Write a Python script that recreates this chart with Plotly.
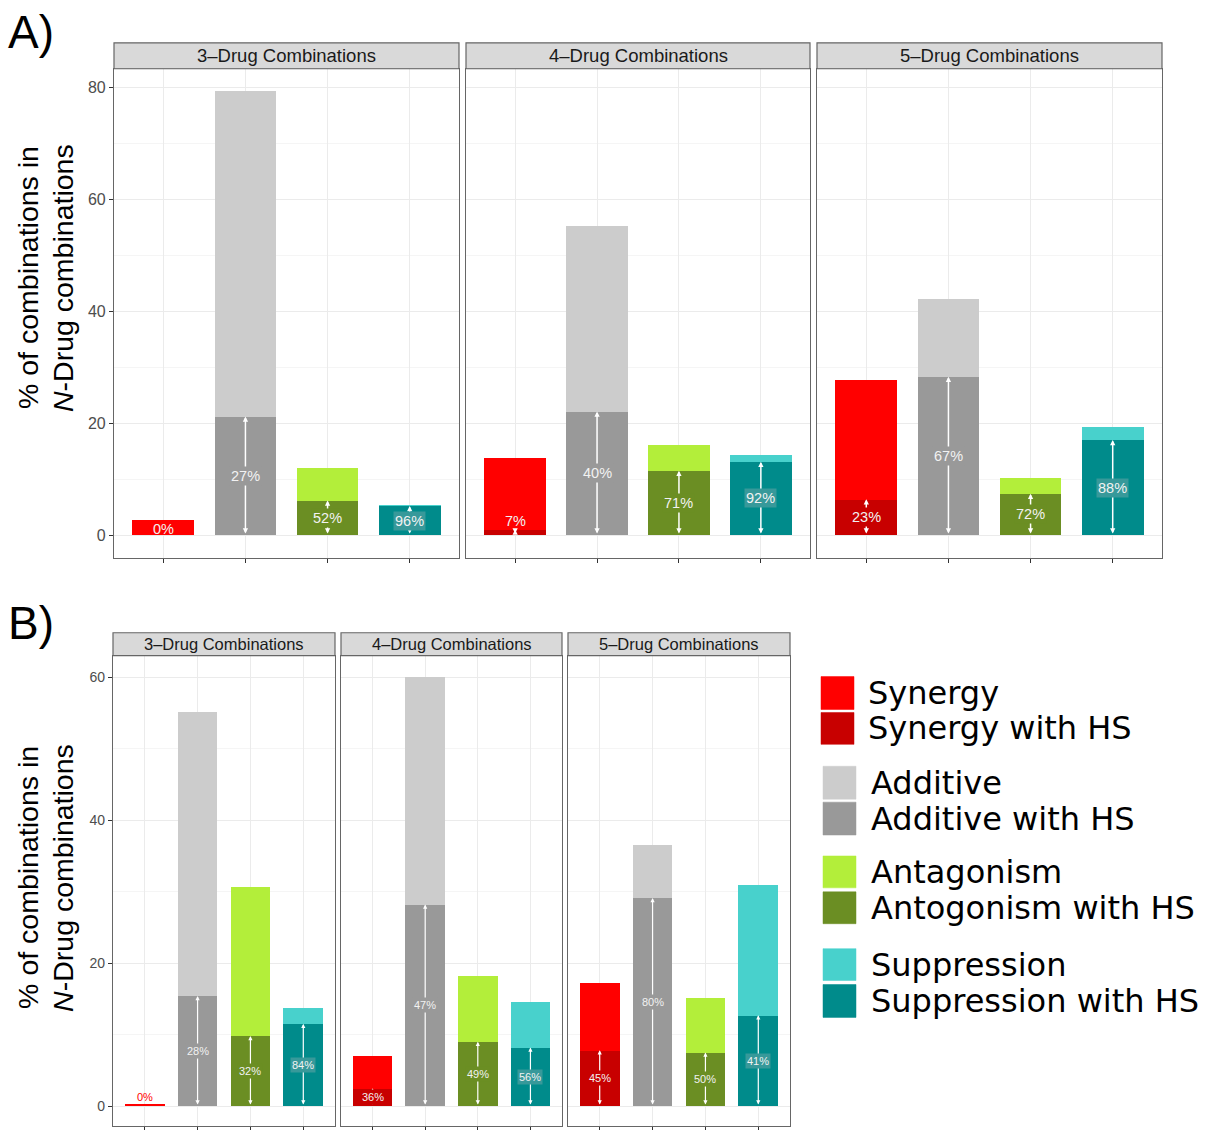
import plotly.graph_objects as go

W, H = 1218, 1130

categories = ["Synergy", "Additive", "Antagonism", "Suppression"]
facets = ["3–Drug Combinations", "4–Drug Combinations", "5–Drug Combinations"]

# Panel A: total % and % with HS per facet (3, 4, 5 drug)
a_total = [[2.7, 79.5, 12.1, 5.4], [13.9, 55.3, 16.2, 14.4], [27.8, 42.2, 10.3, 19.3]]
a_hs = [[0.0, 21.2, 6.2, 5.2], [1.0, 22.1, 11.5, 13.1], [6.4, 28.3, 7.4, 17.0]]
a_pct = [["0%", "27%", "52%", "96%"], ["7%", "40%", "71%", "92%"], ["23%", "67%", "72%", "88%"]]

# Panel B
b_total = [[0.3, 55.2, 30.7, 13.8], [7.0, 60.0, 18.3, 14.6], [17.3, 36.5, 15.1, 31.0]]
b_hs = [[0.0, 15.4, 9.8, 11.5], [2.5, 28.2, 9.0, 8.2], [7.8, 29.1, 7.5, 12.7]]
b_pct = [["0%", "28%", "32%", "84%"], ["36%", "47%", "49%", "56%"], ["45%", "80%", "50%", "41%"]]

legend_labels = ["Synergy", "Synergy with HS", "Additive", "Additive with HS",
                 "Antagonism", "Antogonism with HS", "Suppression", "Suppression with HS"]

col_total = ["#FF0000", "#CCCCCC", "#B3EE3A", "#48D1CC"]
col_hs = ["#C80000", "#999999", "#6B8E23", "#008B8B"]
lab_bg_hs = ["#C80000", "#999999", "#6B8E23", "#37999A"]

FONT = "Liberation Sans, Arial, Helvetica, sans-serif"
LEG_FONT = "DejaVu Sans, Liberation Sans, Arial, sans-serif"


def px_x(p):
    return p / W


def px_y(p):
    return 1 - p / H


fig = go.Figure()

panels = [
    dict(total=a_total, hs=a_hs, pct=a_pct,
         xs=[(114, 459), (466, 810), (817, 1162)], ytop=69, ybot=560,
         yrange=[-4.1, 83.4], ticks=[0, 20, 40, 60, 80], strip=(43, 69),
         strip_font=18.5, tick_font=16, lab_font=14.5, arrow_w=1.5, floor=2.6, zero_y=1.1),
    dict(total=b_total, hs=b_hs, pct=b_pct,
         xs=[(113, 335), (341, 562), (568, 790)], ytop=658, ybot=1130,
         yrange=[-2.79, 63.0], ticks=[0, 20, 40, 60], strip=(635, 658),
         strip_font=16.5, tick_font=14, lab_font=11, arrow_w=1.2, floor=1.2, zero_y=1.2),
]

annotations = []
shapes = []
layout_axes = {}
n = 0
for pi, P in enumerate(panels):
    for fi in range(3):
        n += 1
        xa = "x" if n == 1 else f"x{n}"
        ya = "y" if n == 1 else f"y{n}"
        xs = list(range(4))
        fig.add_trace(go.Bar(x=xs, y=P["total"][fi], width=0.75,
                             marker=dict(color=col_total, line=dict(width=0)),
                             xaxis=xa, yaxis=ya, showlegend=False, hoverinfo="skip"))
        fig.add_trace(go.Bar(x=xs, y=P["hs"][fi], width=0.75,
                             marker=dict(color=col_hs, line=dict(width=0)),
                             xaxis=xa, yaxis=ya, showlegend=False, hoverinfo="skip"))
        x0, x1 = P["xs"][fi]
        layout_axes["xaxis" if n == 1 else f"xaxis{n}"] = dict(
            domain=[px_x(x0), px_x(x1)], anchor=ya, range=[-0.6, 3.6],
            tickvals=xs, ticktext=["", "", "", ""], ticks="outside", ticklen=4,
            tickcolor="#333333", showgrid=True, gridcolor="#EBEBEB", gridwidth=1,
            showline=True, mirror=True, linecolor="#666666", linewidth=1.2,
            zeroline=False, fixedrange=True)
        layout_axes["yaxis" if n == 1 else f"yaxis{n}"] = dict(
            domain=[px_y(P["ybot"]), px_y(P["ytop"])], anchor=xa, range=P["yrange"],
            tickvals=P["ticks"], ticktext=[str(t) for t in P["ticks"]] if fi == 0 else [""] * len(P["ticks"]),
            ticks="outside" if fi == 0 else "", ticklen=4, tickcolor="#333333",
            tickfont=dict(size=P["tick_font"], color="#4D4D4D", family=FONT),
            showgrid=True, gridcolor="#EBEBEB", gridwidth=1,
            minor=dict(dtick=10, tick0=0, showgrid=True, gridcolor="#F5F5F5", gridwidth=0.6, ticks=""),
            showline=True, mirror=True, linecolor="#666666", linewidth=1.2,
            zeroline=False, fixedrange=True)
        # strip
        s0, s1 = P["strip"]
        shapes.append(dict(type="rect", xref="paper", yref="paper",
                           x0=px_x(x0), x1=px_x(x1), y0=px_y(s1), y1=px_y(s0),
                           fillcolor="#D9D9D9", line=dict(color="#666666", width=1.2)))
        annotations.append(dict(xref="paper", yref="paper", x=px_x((x0 + x1) / 2),
                                y=px_y((s0 + s1) / 2), text=facets[fi], showarrow=False,
                                xanchor="center", yanchor="middle",
                                font=dict(size=P["strip_font"], color="#1A1A1A", family=FONT)))
        # arrows
        for ci in range(4):
            hs = P["hs"][fi][ci]
            if hs > 0:
                annotations.append(dict(x=ci, y=hs, ax=ci, ay=0, xref=xa, yref=ya,
                                        axref=xa, ayref=ya, text="", showarrow=True,
                                        arrowhead=2, startarrowhead=2, arrowside="end+start",
                                        arrowsize=0.7, startarrowsize=0.7,
                                        arrowwidth=P["arrow_w"], arrowcolor="#FFFFFF",
                                        standoff=0, startstandoff=0))
        for ci in range(4):
            hs = P["hs"][fi][ci]
            tot = P["total"][fi][ci]
            ly = max(hs / 2, P["floor"]) if hs > 0 else P["zero_y"]
            if ly > tot:
                fc = col_total[ci]
                bg = "rgba(0,0,0,0)"
            elif ly <= hs:
                fc = "#F2F2F2"
                bg = lab_bg_hs[ci]
            else:
                fc = "#F2F2F2"
                bg = "rgba(0,0,0,0)"
            annotations.append(dict(x=ci, y=ly, xref=xa, yref=ya, text=P["pct"][fi][ci],
                                    showarrow=False, xanchor="center", yanchor="middle",
                                    bgcolor=bg, borderpad=1,
                                    font=dict(size=P["lab_font"], color=fc, family=FONT)))

# panel letters
annotations.append(dict(xref="paper", yref="paper", x=px_x(6), y=px_y(32), text="A)",
                        showarrow=False, xanchor="left", yanchor="middle",
                        font=dict(size=46, color="#000000", family=FONT)))
annotations.append(dict(xref="paper", yref="paper", x=px_x(6), y=px_y(625), text="B)",
                        showarrow=False, xanchor="left", yanchor="middle",
                        font=dict(size=46, color="#000000", family=FONT)))

# y-axis titles
for yc in (279, 881):
    annotations.append(dict(xref="paper", yref="paper", x=px_x(28), y=px_y(yc),
                            text="% of combinations in", textangle=-90, showarrow=False,
                            xanchor="center", yanchor="middle",
                            font=dict(size=28.5, color="#000000", family=FONT)))
    annotations.append(dict(xref="paper", yref="paper", x=px_x(63), y=px_y(yc),
                            text="<i>N</i>-Drug combinations", textangle=-90, showarrow=False,
                            xanchor="center", yanchor="middle",
                            font=dict(size=28.5, color="#000000", family=FONT)))

# custom legend
leg_colors = []
for ct, ch in zip(col_total, col_hs):
    leg_colors += [ct, ch]
leg_y = [(679, 712), (715, 747), (769, 802), (805, 838), (859, 891), (895, 927), (952, 984), (988, 1021)]
for i, (lab, c) in enumerate(zip(legend_labels, leg_colors)):
    y0, y1 = leg_y[i]
    sx0 = 821 if i < 2 else 823
    shapes.append(dict(type="rect", xref="paper", yref="paper",
                       x0=px_x(sx0), x1=px_x(sx0 + 33), y0=px_y(y1), y1=px_y(y0),
                       fillcolor=c, line=dict(color=c, width=0.5)))
    annotations.append(dict(xref="paper", yref="paper", x=px_x(866 if i < 2 else 869),
                            y=px_y((y0 + y1) / 2), text=lab, showarrow=False,
                            xanchor="left", yanchor="middle",
                            font=dict(size=32, color="#000000", family=LEG_FONT)))

fig.update_layout(
    width=W, height=H, margin=dict(l=0, r=0, t=0, b=0),
    paper_bgcolor="#FFFFFF", plot_bgcolor="#FFFFFF",
    barmode="overlay", bargap=0, showlegend=False,
    annotations=annotations, shapes=shapes, font=dict(family=FONT),
    **layout_axes,
)

fig.write_html("out.html", config={"displayModeBar": False})

# remove the browser's default page margin so the figure fills the window exactly
with open("out.html", "r", encoding="utf-8") as f:
    html = f.read()
html = html.replace("<body>", '<body style="margin:0;padding:0;overflow:hidden">', 1)
with open("out.html", "w", encoding="utf-8") as f:
    f.write(html)
